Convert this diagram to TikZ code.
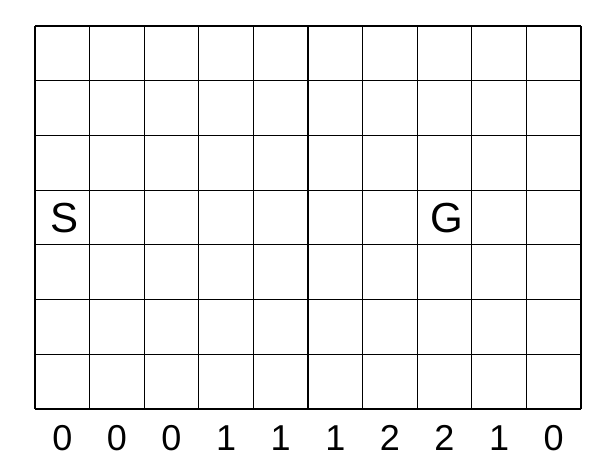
\documentclass[tikz,border=0pt]{standalone}
\usepackage{fontspec}
\setmainfont{Liberation Sans}
\begin{document}
\begin{tikzpicture}[x=1pt,y=-1pt,
  gridline/.style={line width=1.2pt,black},
  letter/.style={font=\fontsize{42}{44}\selectfont,inner sep=0pt,anchor=center},
  wind/.style={font=\fontsize{36}{38}\selectfont,inner sep=0pt,anchor=center}]
\useasboundingbox (0,0) rectangle (604,472);
\def\cw{54.6}
\def\rh{54.714}
\foreach \i in {0,...,10} {
  \draw[gridline] (35+\i*\cw,26) -- (35+\i*\cw,409);
}
\foreach \j in {0,...,7} {
  \draw[gridline] (35,26+\j*\rh) -- (581,26+\j*\rh);
}
\node[letter] (S) at (65,218) {S};
\node[letter] (G) at (447,218) {G};
\foreach [count=\k from 0] \w in {0,0,0,1,1,1,2,2,1,0} {
  \node[wind] (w\k) at (35+\k*\cw+\cw/2,438) {\w};
}
\end{tikzpicture}
\end{document}
